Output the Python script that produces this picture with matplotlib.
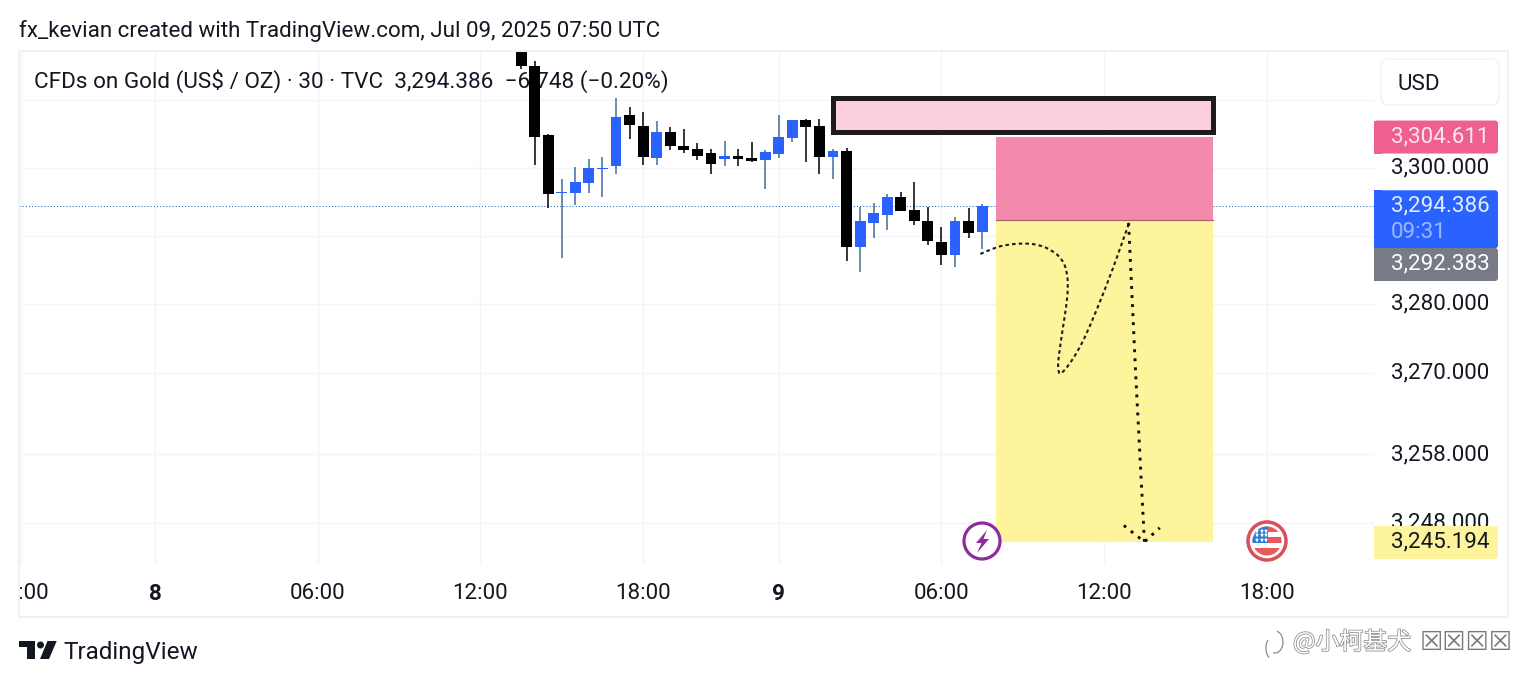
import matplotlib
matplotlib.use("Agg")
import matplotlib.pyplot as plt
import matplotlib.patheffects as pe
from matplotlib.patches import Rectangle, Circle, Polygon, FancyBboxPatch, PathPatch, Arc
from matplotlib.path import Path
from matplotlib.transforms import Bbox

plt.rcParams['font.family'] = ['Roboto', 'DejaVu Sans']

# candles, one per 30 min, x is the bar number counted from the "8" tick
bars = list(range(27, 62))
highs = [3317.05, 3315.74, 3305.00, 3298.34, 3300.15, 3301.33, 3301.62, 3310.30, 3308.97, 3308.24,
         3306.91, 3306.03, 3305.74, 3303.68, 3302.80, 3303.97, 3302.80, 3303.83, 3302.65, 3307.80,
         3307.06, 3307.21, 3307.21, 3302.80, 3302.94, 3294.31, 3294.85, 3296.18, 3296.47, 3297.94,
         3294.31, 3291.32, 3292.79, 3294.12, 3294.71]
tops = [3317.05, 3315.00, 3304.85, 3296.47, 3297.94, 3300.00, 3300.00, 3307.50, 3307.80, 3306.18,
        3305.30, 3305.30, 3303.24, 3302.80, 3302.21, 3301.77, 3301.77, 3301.47, 3302.35, 3304.56,
        3307.06, 3307.06, 3306.18, 3302.50, 3302.50, 3292.21, 3293.38, 3295.73, 3295.73, 3293.82,
        3292.21, 3289.12, 3292.21, 3292.21, 3294.41]
bottoms = [3314.90, 3304.61, 3296.23, 3296.37, 3296.37, 3297.84, 3299.90, 3300.34, 3306.23, 3301.67,
           3301.52, 3303.29, 3302.65, 3301.82, 3300.64, 3301.37, 3301.37, 3301.08, 3301.18, 3302.11,
           3304.46, 3306.08, 3301.67, 3301.67, 3288.43, 3288.43, 3291.96, 3293.14, 3293.72, 3292.25,
           3289.31, 3287.25, 3287.25, 3290.49, 3290.64]
lows = [3314.56, 3300.44, 3294.17, 3286.82, 3294.56, 3296.37, 3295.79, 3299.17, 3304.32, 3300.44,
        3300.49, 3302.70, 3302.26, 3301.23, 3299.17, 3300.34, 3300.34, 3300.93, 3296.96, 3301.52,
        3303.87, 3300.93, 3299.17, 3298.43, 3286.37, 3284.75, 3289.75, 3290.93, 3293.72, 3291.67,
        3288.72, 3285.78, 3285.49, 3289.75, 3288.14]
rising = [0, 0, 0, 1, 1, 1, 1, 1, 0, 0,
          1, 0, 0, 0, 0, 1, 0, 0, 1, 1,
          1, 0, 0, 1, 0, 1, 1, 1, 0, 0,
          0, 0, 1, 0, 1]

last_price = 3294.386
stop_price = 3304.611
entry_price = 3292.383
target_price = 3245.194
zone_start, zone_end = 62.0, 78.05

box_start, box_end = 50.0, 78.05
box_low, box_high = 3305.29, 3310.29

curve_x = [60.87, 61.85, 62.83, 64.06, 65.17, 66.15, 66.88, 67.25, 67.35, 67.20, 66.96,
           66.71, 66.57, 66.66, 66.81, 67.38, 68.23, 68.97, 69.83, 70.69, 71.30, 71.84]
curve_y = [3287.40, 3288.28, 3288.77, 3288.97, 3288.77, 3287.94, 3286.71, 3285.00, 3282.55, 3279.60, 3276.66,
           3273.23, 3271.03, 3269.90, 3269.80, 3271.03, 3273.72, 3276.91, 3281.07, 3285.49, 3288.92, 3291.96]

arrow_x = [71.80, 72.33, 72.97]
arrow_y = [3291.96, 3269.56, 3245.19]
head_x = [71.45, 72.97, 74.10]
head_y = [3247.60, 3245.19, 3247.25]

x_ticks = [-9.9, 0, 12, 24, 36, 46, 58, 70, 82]
x_labels = ['18:00', '8', '06:00', '12:00', '18:00', '9', '06:00', '12:00', '18:00']
y_ticks = [3310, 3300, 3290, 3280, 3270, 3258, 3248]
y_labels = ['', '3,300.000', '', '3,280.000', '3,270.000', '3,258.000', '3,248.000']

W, H = 1527, 684
BLUE = '#2962ff'
FS = 16.1

fig = plt.figure(figsize=(W / 100, H / 100), dpi=100, facecolor='white')
ax = fig.add_axes([19 / W, 1 - 565 / H, (1374 - 19) / W, (565 - 51) / H])
ax.set_xlim(-10.03, 89.9)
ax.set_ylim(3241.8, 3317.15)
for s in ax.spines.values():
    s.set_visible(False)
ax.set_axisbelow(True)
ax.grid(color='#f3f4f6', lw=1)
ax.set_xticks(x_ticks)
ax.set_xticklabels(x_labels)
ax.set_yticks(y_ticks)
ax.set_yticklabels(y_labels)
ax.yaxis.tick_right()
ax.tick_params(length=0, labelsize=FS, labelcolor='#131722')
ax.tick_params(axis='y', pad=12.0)
ax.tick_params(axis='x', pad=13.2)
for t, lab in zip(ax.get_xticklabels(), x_labels):
    if len(lab) == 1:
        t.set_fontweight('bold')
    t.set_clip_box(Bbox([[19, 0], [W, H]]))
    t.set_clip_on(True)
for t in ax.get_yticklabels():
    t.set_verticalalignment('center')

ax.axhline(last_price, color='#1f5fbf', lw=0.75, ls=(0, (1, 2)), zorder=1)

ax.add_patch(Rectangle((zone_start, entry_price), zone_end - zone_start, stop_price - entry_price,
                       fc='#f48aab', ec='none', zorder=2))
ax.add_patch(Rectangle((zone_start, target_price), zone_end - zone_start, entry_price - target_price,
                       fc='#fef49c', ec='none', zorder=2))
ax.plot([zone_start, zone_end], [entry_price, entry_price], color='#a5686f', lw=0.9, zorder=2.1)
ax.add_patch(Rectangle((box_start, box_low), box_end - box_start, box_high - box_low,
                       fc='#fccfdf', ec='#1e1a1e', lw=3.6, joinstyle='miter', zorder=2))

# legend sits over the grid but under the candles
ax.text(34 / W, 1 - 81.5 / H, 'CFDs on Gold (US$ / OZ) · 30 · TVC  3,294.386  −6.748 (−0.20%)',
        fontsize=16.18, color='#131722', va='center', ha='left', zorder=2.5,
        transform=fig.transFigure, clip_on=False)

# candles
for i, b in enumerate(bars):
    body = BLUE if rising[i] else 'black'
    wick = '#3f6d9c' if rising[i] else 'black'
    ax.vlines(b, lows[i], highs[i], color=wick, lw=1.1, zorder=3)
    h = max(tops[i] - bottoms[i], 0.12)
    ax.bar(b, h, width=0.8, bottom=bottoms[i], color=body, zorder=3.1)

# hand drawn path
pts = list(zip(curve_x, curve_y))
verts = [pts[0]]
codes = [Path.MOVETO]
for a, c in zip(pts[1:-1], pts[2:]):
    verts += [a, ((a[0] + c[0]) / 2, (a[1] + c[1]) / 2)]
    codes += [Path.CURVE3, Path.CURVE3]
verts.append(pts[-1])
codes.append(Path.LINETO)
ax.add_patch(PathPatch(Path(verts, codes), fc='none', ec='#1c1c1c', lw=1.5, ls=(0, (1.7, 1.5)), zorder=4))
ax.plot(arrow_x, arrow_y, color='#111111', lw=2.1, ls=(0, (1.0, 2.1)), zorder=4)
ax.plot(head_x, head_y, color='#111111', lw=2.1, ls=(0, (1.0, 2.1)), zorder=4)

# overlay in pixel coordinates for the chrome round the chart
ov = fig.add_axes([0, 0, 1, 1], zorder=5)
ov.set_xlim(0, W)
ov.set_ylim(H, 0)
ov.axis('off')
ov.patch.set_alpha(0)


def price_y(p):
    return H - ax.transData.transform((0, p))[1]


def tag(y0, y1, color):
    ov.add_patch(FancyBboxPatch((1376, y0 + 2), 120, y1 - y0 - 4, boxstyle='round,pad=2,rounding_size=3',
                                fc=color, ec='none'))
    ov.add_patch(Rectangle((1374, y0), 8, y1 - y0, fc=color, ec='none'))


ov.add_patch(Rectangle((19, 51), 1489, 566, fc='none', ec='#f0f1f3', lw=1.5))
ov.text(19, 31, 'fx_kevian created with TradingView.com, Jul 09, 2025 07:50 UTC', fontsize=FS,
        color='#131722', va='center', ha='left')

ov.add_patch(FancyBboxPatch((1385, 63), 110, 38, boxstyle='round,pad=4,rounding_size=8',
                            fc='white', ec='#f0f3fa', lw=1.2))
ov.text(1397.5, 84, 'USD', fontsize=FS, color='#131722', va='center', ha='left')

y = price_y(stop_price)
tag(y - 16, y + 17, '#ef5f8f')
ov.text(1391, y + 0.5, '3,304.611', fontsize=FS, color='#fde7ef', va='center', ha='left')

y = price_y(last_price)
tag(y - 16, y + 42, BLUE)
ov.text(1391, y, '3,294.386', fontsize=FS, color='#e4ecff', va='center', ha='left')
ov.text(1391, y + 26, '09:31', fontsize=FS, color='#9ab8ff', va='center', ha='left')

tag(248, 281, '#787b86')
ov.text(1391, 264, '3,292.383', fontsize=FS, color='white', va='center', ha='left')

tag(526, 559, '#fef49c')
ov.text(1391, 542, '3,245.194', fontsize=FS, color='#131722', va='center', ha='left')

# event icons
ov.add_patch(Circle((982, 541), 18, fc='white', ec='#8e2c9e', lw=2.3))
ov.add_patch(Polygon([[987, 530], [976, 543], [981.5, 543], [977, 553], [989, 539], [983.5, 539]],
                     fc='#8e2c9e', ec='none'))

ov.add_patch(Circle((1267, 541), 19, fc='white', ec='#d9505a', lw=2.5))
clip = Circle((1267, 541), 14.5, transform=ov.transData)
for y0, h, c in [(526, 6, '#e85a5a'), (532, 5, 'white'), (537, 6, '#e85a5a'), (543, 5, 'white'), (548, 9, '#e85a5a')]:
    r = Rectangle((1250, y0), 34, h, fc=c, ec='none')
    ov.add_patch(r)
    r.set_clip_path(clip)
canton = Rectangle((1250, 526), 18, 17, fc='#2f80d0', ec='none')
ov.add_patch(canton)
canton.set_clip_path(clip)
for sx in [1257, 1261.5, 1266]:
    for sy in [530.5, 535, 539.5]:
        ov.plot(sx, sy, marker='*', ms=3.6, color='white', mew=0)

# logo
ov.add_patch(Polygon([[19, 641], [34.5, 641], [34.5, 659], [26.5, 659], [26.5, 647], [19, 647]], fc='#131722', ec='none'))
ov.add_patch(Circle((40.5, 645), 3.5, fc='#131722', ec='none'))
ov.add_patch(Polygon([[47.5, 641], [56.7, 641], [49, 659], [40, 659]], fc='#131722', ec='none'))
ov.text(63, 652, 'TradingView', fontsize=17.5, color='#131722', va='center', ha='left')

# watermark
outline = [pe.withStroke(linewidth=1.1, foreground='#8c8c8c')]
ov.text(1293, 642, '@小柯基犬', fontsize=17.2, color='white', va='center', ha='left',
        family=['Noto Sans CJK SC', 'DejaVu Sans'], path_effects=outline)
ov.text(1420, 643, '☒☒☒☒', fontsize=18.7, color='#7a7a7a', va='center', ha='left',
        family=['DejaVu Sans'])
ov.add_patch(Arc((1275, 642), 16, 22, theta1=-80, theta2=100, ec='#8c8c8c', lw=0.9))
ov.add_patch(Arc((1271, 648), 10, 20, theta1=100, theta2=250, ec='#8c8c8c', lw=0.9))

fig.savefig('out.png', dpi=100)
